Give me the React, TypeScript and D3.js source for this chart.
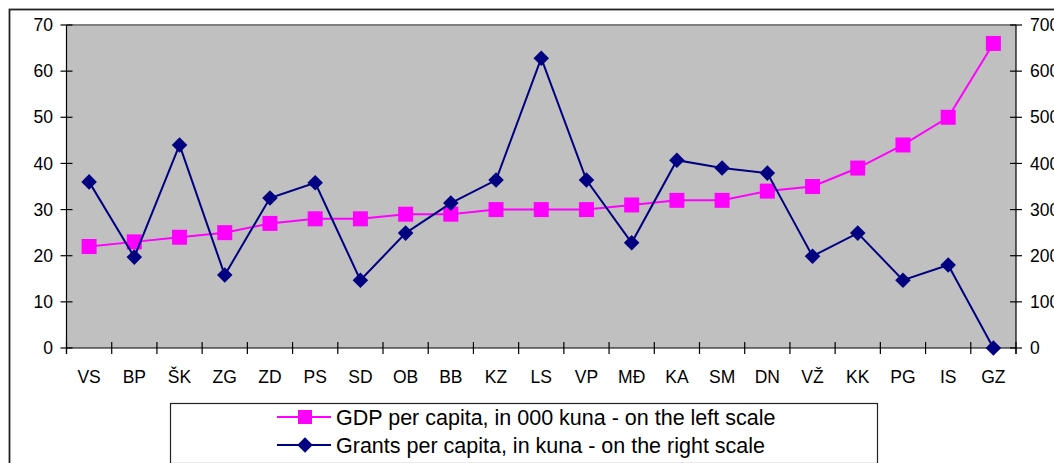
import { useRef, useEffect } from "react";
import * as d3 from "d3";

const regions = ["VS", "BP", "ŠK", "ZG", "ZD", "PS", "SD", "OB", "BB", "KZ", "LS", "VP", "MĐ", "KA", "SM", "DN", "VŽ", "KK", "PG", "IS", "GZ"];
const gdp = [22, 23, 24, 25, 27, 28, 28, 29, 29, 30, 30, 30, 31, 32, 32, 34, 35, 39, 44, 50, 66];
const grants = [360, 197, 440, 158, 325, 358, 147, 249, 314, 364, 628, 364, 228, 407, 390, 379, 199, 249, 147, 180, 0];
const leftTicks = [0, 10, 20, 30, 40, 50, 60, 70];
const rightTicks = [0, 100, 200, 300, 400, 500, 600, 700];
const legendLabels = ["GDP per capita, in 000 kuna - on the left scale", "Grants per capita, in kuna - on the right scale"];

export default function App() {
  const root = useRef<SVGSVGElement>(null);
  const width = 1054;
  const height = 463;
  const left = 66.5, right = 1016, top = 25, bottom = 348;

  useEffect(() => {
    const svg = d3.select(root.current);
    svg.selectAll("*").remove();
    const font = "'Liberation Sans', Arial, sans-serif";
    const axisSize = 17.5;

    const x = d3.scaleBand<string>().domain(regions).range([left, right]);
    const yL = d3.scaleLinear().domain([0, 70]).range([bottom, top]);
    const yR = d3.scaleLinear().domain([0, 700]).range([bottom, top]);
    const cx = (d: string) => (x(d) as number) + x.bandwidth() / 2;

    // outer chart frame
    svg.append("rect")
      .attr("x", 9.5).attr("y", 9.5)
      .attr("width", 1080).attr("height", 480)
      .attr("fill", "white").attr("stroke", "#222").attr("stroke-width", 1.8);

    // plot area
    svg.append("rect")
      .attr("x", left).attr("y", top)
      .attr("width", right - left).attr("height", bottom - top)
      .attr("fill", "#c0c0c0");
    svg.append("line")
      .attr("x1", left).attr("x2", right).attr("y1", top).attr("y2", top)
      .attr("stroke", "#808080").attr("stroke-width", 2);

    // left axis
    const gl = svg.append("g");
    gl.append("line").attr("x1", left).attr("x2", left).attr("y1", top).attr("y2", bottom + 6)
      .attr("stroke", "#000").attr("stroke-width", 1.2);
    leftTicks.forEach(t => {
      gl.append("line").attr("x1", left - 6).attr("x2", left + 6).attr("y1", yL(t)).attr("y2", yL(t))
        .attr("stroke", "#000").attr("stroke-width", 1.2);
      gl.append("text").attr("x", 53).attr("y", yL(t)).attr("dy", "0.35em")
        .attr("text-anchor", "end").attr("font-family", font).attr("font-size", axisSize).text(t);
    });

    // right axis
    const gr = svg.append("g");
    gr.append("line").attr("x1", right).attr("x2", right).attr("y1", top).attr("y2", bottom + 6)
      .attr("stroke", "#000").attr("stroke-width", 1.2);
    rightTicks.forEach(t => {
      gr.append("line").attr("x1", right - 6).attr("x2", right + 6).attr("y1", yR(t)).attr("y2", yR(t))
        .attr("stroke", "#000").attr("stroke-width", 1.2);
      gr.append("text").attr("x", 1030).attr("y", yR(t)).attr("dy", "0.35em")
        .attr("text-anchor", "start").attr("font-family", font).attr("font-size", axisSize).text(t);
    });

    // x axis
    const gx = svg.append("g");
    gx.append("line").attr("x1", left).attr("x2", right).attr("y1", bottom).attr("y2", bottom)
      .attr("stroke", "#000").attr("stroke-width", 1.2);
    regions.forEach((r, i) => {
      const bx = x(r) as number;
      gx.append("line").attr("x1", bx).attr("x2", bx).attr("y1", bottom - 6).attr("y2", bottom + 6)
        .attr("stroke", "#000").attr("stroke-width", 1.2);
      if (i === regions.length - 1) {
        gx.append("line").attr("x1", bx + x.bandwidth()).attr("x2", bx + x.bandwidth())
          .attr("y1", bottom - 6).attr("y2", bottom + 6).attr("stroke", "#000").attr("stroke-width", 1.2);
      }
      gx.append("text").attr("x", cx(r)).attr("y", 377).attr("dy", "0.35em")
        .attr("text-anchor", "middle").attr("font-family", font).attr("font-size", axisSize).text(r);
    });

    // GDP line
    const lineL = d3.line<number>().x((_, i) => cx(regions[i])).y(d => yL(d));
    svg.append("path").datum(gdp).attr("d", lineL)
      .attr("fill", "none").attr("stroke", "#ff00ff").attr("stroke-width", 2);
    svg.append("g").selectAll("path").data(gdp).enter().append("path")
      .attr("d", d3.symbol(d3.symbolSquare, 225)())
      .attr("transform", (d, i) => `translate(${cx(regions[i])},${yL(d)})`)
      .attr("fill", "#ff00ff");

    // Grants line
    const lineR = d3.line<number>().x((_, i) => cx(regions[i])).y(d => yR(d));
    svg.append("path").datum(grants).attr("d", lineR)
      .attr("fill", "none").attr("stroke", "#000080").attr("stroke-width", 2);
    svg.append("g").selectAll("path").data(grants).enter().append("path")
      .attr("d", d3.symbol(d3.symbolSquare, 121)())
      .attr("transform", (d, i) => `translate(${cx(regions[i])},${yR(d)}) rotate(45)`)
      .attr("fill", "#000080");

    // legend
    const lg = svg.append("g");
    lg.append("rect").attr("x", 170.5).attr("y", 403.5).attr("width", 707).attr("height", 60)
      .attr("fill", "white").attr("stroke", "#222").attr("stroke-width", 1.2);
    const colors = ["#ff00ff", "#000080"];
    const rowsY = [417, 445];
    legendLabels.forEach((lab, i) => {
      lg.append("line").attr("x1", 277).attr("x2", 331).attr("y1", rowsY[i]).attr("y2", rowsY[i])
        .attr("stroke", colors[i]).attr("stroke-width", 2);
      lg.append("path")
        .attr("d", d3.symbol(d3.symbolSquare, i === 0 ? 196 : 121)())
        .attr("transform", `translate(305,${rowsY[i]})` + (i === 1 ? " rotate(45)" : ""))
        .attr("fill", colors[i]);
      lg.append("text").attr("x", 336).attr("y", rowsY[i]).attr("dy", "0.35em")
        .attr("font-family", font).attr("font-size", 21.5).text(lab);
    });
  }, []);

  return (
    <svg ref={root} width={width} height={height}
      style={{ position: "absolute", left: 0, top: 0, background: "white" }} />
  );
}
